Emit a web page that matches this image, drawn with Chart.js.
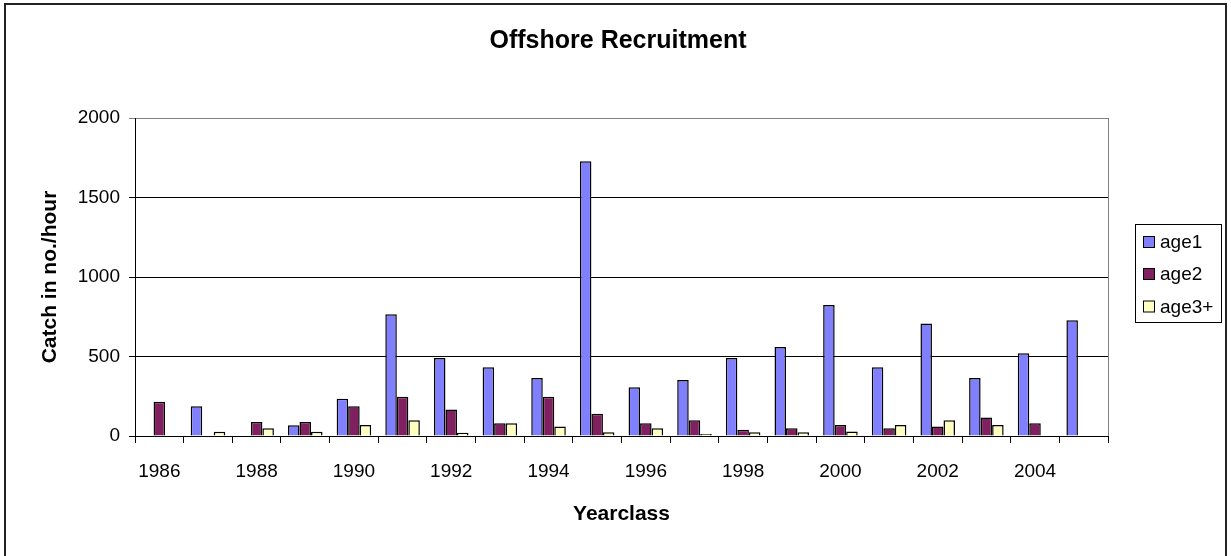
<!DOCTYPE html>
<html>
<head>
<meta charset="utf-8">
<title>Offshore Recruitment</title>
<script src="https://cdn.jsdelivr.net/npm/chart.js@4.4.1/dist/chart.umd.min.js"></script>
<style>
  body { margin: 0; background: #fff; }
  canvas { display: block; }
</style>
</head>
<body>
<canvas id="recruitChart" width="1231" height="556"></canvas>
<script>
// yearclasses on the x axis
let years = ['1986','1987','1988','1989','1990','1991','1992','1993','1994','1995',
             '1996','1997','1998','1999','2000','2001','2002','2003','2004','2005'];
// catch in no./hour per age group (null = no bar)
let age1 = [null, 187, null, 67, 235, 765, 491, 432, 365, 1728, 306, 352, 491, 560, 824, 432, 707, 365, 520, 728];
let age2 = [216, null, 88, 88, 187, 247, 166, 80, 247, 140, 80, 99, 40, 48, 69, 48, 59, 117, 80, null];
let age3 = [null, 27, 48, 27, 69, 99, 21, 80, 59, 23, 48, 13, 23, 23, 29, 69, 99, 69, null, null];
let yTicks = [0, 500, 1000, 1500, 2000];
let chartTitle = 'Offshore Recruitment';

let font = "Arial, 'Liberation Sans', sans-serif";

// outer frame, title, plot border and the boxed legend on the right
let framePlugin = {
  id: 'frame',
  beforeDatasetsDraw(chart) {
    let ctx = chart.ctx, a = chart.chartArea;
    ctx.save();
    ctx.strokeStyle = '#808080';
    ctx.lineWidth = 1;
    ctx.beginPath();
    ctx.moveTo(Math.round(a.right) + 0.5, a.top);
    ctx.lineTo(Math.round(a.right) + 0.5, a.bottom);
    ctx.stroke();
    ctx.restore();
  },
  afterDraw(chart) {
    let ctx = chart.ctx;
    ctx.save();
    ctx.strokeStyle = '#222';
    ctx.lineWidth = 2;
    ctx.strokeRect(5, 4, 1221, 600);

    // title
    ctx.fillStyle = '#000';
    ctx.font = 'bold 25px ' + font;
    ctx.textAlign = 'center';
    ctx.textBaseline = 'middle';
    ctx.fillText(chartTitle, 618, 41);

    // legend box
    ctx.textAlign = 'left';
    ctx.lineWidth = 1;
    ctx.strokeStyle = '#000';
    ctx.strokeRect(1135.5, 224.5, 86, 98);
    ctx.font = '19px ' + font;
    let rows = [242, 274, 306.5];
    chart.data.datasets.forEach((ds, i) => {
      let y = rows[i];
      ctx.fillStyle = ds.backgroundColor;
      ctx.fillRect(1143.5, y - 5.5, 11, 11);
      ctx.strokeStyle = '#000';
      ctx.strokeRect(1143.5, y - 5.5, 11, 11);
      ctx.fillStyle = '#000';
      ctx.fillText(ds.label, 1160, y + 1);
    });
    ctx.restore();
  }
};

let el = document.getElementById('recruitChart').getContext('2d');
new Chart(el, {
  type: 'bar',
  data: {
    labels: years,
    datasets: [
      { label: 'age1', data: age1, backgroundColor: '#8080ff', borderColor: '#000', borderWidth: 1.5 },
      { label: 'age2', data: age2, backgroundColor: '#802060', borderColor: '#000', borderWidth: 1.5 },
      { label: 'age3+', data: age3, backgroundColor: '#ffffc0', borderColor: '#000', borderWidth: 1.5 }
    ]
  },
  options: {
    responsive: false,
    animation: false,
    datasets: {
      bar: { categoryPercentage: 0.71, barPercentage: 1.0 }
    },
    layout: { padding: { left: 0, right: 123, top: 118, bottom: 0 } },
    plugins: {
      legend: { display: false },
      tooltip: { enabled: false },
      title: { display: false }
    },
    scales: {
      x: {
        offset: true,
        afterFit(scale) { scale.height = 120; },
        grid: {
          offset: true,
          drawOnChartArea: false,
          color: '#000',
          tickLength: 7
        },
        border: { color: '#000', width: 1 },
        ticks: {
          autoSkip: false,
          maxRotation: 0,
          padding: 17,
          color: '#000',
          font: { family: font, size: 19 },
          callback: function(val, i) { return i % 2 === 0 ? this.getLabelForValue(val) : ''; }
        },
        title: {
          display: true,
          text: 'Yearclass',
          color: '#000',
          font: { family: font, size: 21, weight: 'bold' },
          padding: { top: 0, bottom: 29 }
        }
      },
      y: {
        min: yTicks[0],
        max: yTicks[yTicks.length - 1],
        afterFit(scale) { scale.width = 135; },
        afterBuildTicks(scale) { scale.ticks = yTicks.map(v => ({ value: v })); },
        grid: {
          color: ctx => ctx.tick && ctx.tick.value === 2000 ? '#808080' : '#000',
          tickLength: 6
        },
        border: { color: '#000', width: 1 },
        ticks: {
          padding: 9,
          color: '#000',
          font: { family: font, size: 19 },
          callback: v => String(v)
        },
        title: {
          display: true,
          text: 'Catch in no./hour',
          color: '#000',
          font: { family: font, size: 21, weight: 'bold' },
          padding: { top: 38, bottom: 0 }
        }
      }
    }
  },
  plugins: [framePlugin]
});
</script>
</body>
</html>
